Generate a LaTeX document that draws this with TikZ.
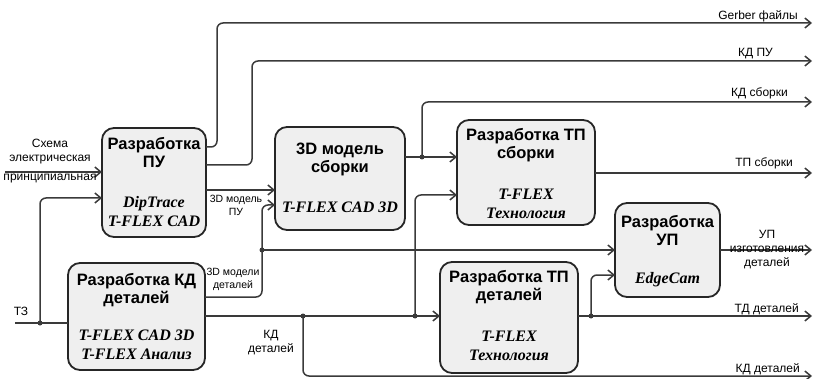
\documentclass[tikz,border=0pt]{standalone}
\usepackage{fontspec}
\setmainfont{Liberation Sans}
\newfontfamily\toolfont{Liberation Serif}
\usepackage{tikz}
\usetikzlibrary{arrows.meta,positioning}
\definecolor{linecol}{HTML}{3A3A3A}
\definecolor{boxfill}{HTML}{EFEFEF}

\begin{document}
\begin{tikzpicture}[x=1pt, y=-1pt, >={Straight Barb[length=6pt,width=10pt]},
    blk/.style={draw=black!85, line width=1.8pt, fill=boxfill, rounded corners=12pt,
                inner sep=0pt, outer sep=0pt},
    ttl/.style={font=\fontsize{16.5}{18}\selectfont\bfseries, align=center, inner sep=0pt},
    tool/.style={font=\fontsize{16}{19}\selectfont\toolfont\bfseries\itshape, align=center, inner sep=0pt},
    conn/.style={draw=linecol, line width=1.5pt, rounded corners=6pt},
    lbl/.style={font=\fontsize{12}{14}\selectfont, align=center, inner sep=0pt},
    slbl/.style={font=\fontsize{10.5}{12.5}\selectfont, align=center, inner sep=0pt},
    jdot/.style={circle, fill=linecol, inner sep=0pt, minimum size=5pt}]

    \useasboundingbox (0,0) rectangle (816,379);

    % ── Blocks ────────────────────────────────────────────────────────────────
    \node[blk, minimum width=104pt, minimum height=109pt] (pu)  at (154,182.5) {};
    \node[blk, minimum width=137pt, minimum height=107pt] (kd)  at (136.5,316.5) {};
    \node[blk, minimum width=130pt, minimum height=103pt] (m3d) at (340,178.5) {};
    \node[blk, minimum width=138pt, minimum height=105pt] (tps) at (526,172.5) {};
    \node[blk, minimum width=105pt, minimum height=94pt]  (up)  at (667.5,250) {};
    \node[blk, minimum width=138pt, minimum height=111pt] (tpd) at (509,317.5) {};

    % ── Block texts ───────────────────────────────────────────────────────────
    \node[ttl, below=9pt of pu.north]   (puT)  {Разработка\\ПУ};
    \node[tool, above=10pt of pu.south] (puS)  {DipTrace\\T-FLEX CAD};
    \node[ttl, below=10pt of kd.north]  (kdT)  {Разработка КД\\деталей};
    \node[tool, above=10pt of kd.south] (kdS)  {T-FLEX CAD 3D\\T-FLEX Анализ};
    \node[ttl, below=16pt of m3d.north] (m3dT) {3D модель\\сборки};
    \node[tool, above=17pt of m3d.south] (m3dS) {T-FLEX CAD 3D};
    \node[ttl, below=8pt of tps.north]  (tpsT) {Разработка ТП\\сборки};
    \node[tool, above=6pt of tps.south] (tpsS) {T-FLEX\\Технология};
    \node[ttl, below=12pt of up.north]  (upT)  {Разработка\\УП};
    \node[tool, above=10pt of up.south] (upS)  {EdgeCam};
    \node[ttl, below=8pt of tpd.north]  (tpdT) {Разработка ТП\\деталей};
    \node[tool, above=12pt of tpd.south] (tpdS) {T-FLEX\\Технология};

    % ── Free ends and junctions ──────────────────────────────────────────────
    \coordinate (inSch)  at (5,172);
    \coordinate (inTZ)   at (15,323);
    \coordinate (outGb)  at (812,23);
    \coordinate (outKpu) at (812,61);
    \coordinate (outKsb) at (812,102);
    \coordinate (outTsb) at (812,173);
    \coordinate (outUp)  at (812,250);
    \coordinate (outTd)  at (812,316);
    \coordinate (outKd)  at (812,376);
    \node[jdot] (jTZ)  at (40,323) {};
    \node[jdot] (j3dd) at (262,250) {};
    \node[jdot] (jKd1) at (303,316) {};
    \node[jdot] (jKd2) at (415,316) {};
    \node[jdot] (jSb)  at (422,157) {};
    \node[jdot] (jTd)  at (591,316) {};

    % ── Inputs ───────────────────────────────────────────────────────────────
    \draw[conn, ->] (inSch) -- (pu.west |- inSch);
    \draw[conn] (inTZ) -- (kd.west |- inTZ);
    \draw[conn, ->] (jTZ.center) -- (40,198) -- (pu.west |- 0,198);

    % ── Outputs of PU block ──────────────────────────────────────────────────
    \draw[conn, ->] (pu.east |- 0,147) -- (217,147) -- (217,23) -- (outGb);
    \draw[conn, ->] (pu.east |- 0,165) -- (252,165) -- (252,61) -- (outKpu);
    \draw[conn, ->] (pu.east |- 0,190) -- (m3d.west |- 0,190);

    % ── Outputs of KD block ──────────────────────────────────────────────────
    \draw[conn, ->] (kd.east |- 0,297) -- (262,297) -- (262,205) -- (m3d.west |- 0,205);
    \draw[conn, ->] (j3dd.center) -- (up.west |- j3dd);
    \draw[conn, ->] (kd.east |- 0,316) -- (tpd.west |- 0,316);
    \draw[conn, ->] (jKd2.center) -- (415,195) -- (tps.west |- 0,195);
    \draw[conn, ->] (jKd1.center) -- (303,376) -- (outKd);

    % ── Outputs of 3D block ──────────────────────────────────────────────────
    \draw[conn, ->] (m3d.east |- jSb) -- (tps.west |- jSb);
    \draw[conn, ->] (jSb.center) -- (422,102) -- (outKsb);

    % ── Outputs of TP / UP blocks ────────────────────────────────────────────
    \draw[conn, ->] (tps.east |- outTsb) -- (outTsb);
    \draw[conn, ->] (up.east |- outUp) -- (outUp);
    \draw[conn, ->] (tpd.east |- outTd) -- (outTd);
    \draw[conn, ->] (jTd.center) -- (591,275) -- (up.west |- 0,275);

    % ── Connector labels ─────────────────────────────────────────────────────
    \node[lbl, anchor=north] (schL) at (50,139) {Схема\\электрическая\\[5pt]принципиальная};
    \node[lbl, anchor=base] (tzL) at (21,315) {ТЗ};
    \node[slbl, anchor=north] (m3puL) at (236,195) {3D модель\\ПУ};
    \node[slbl, anchor=north] (m3kdL) at (233,268) {3D модели\\деталей};
    \node[lbl, anchor=north] (kdinL) at (271,330) {КД\\деталей};
    \node[lbl, anchor=base east] (gbL)  at (798,20)  {Gerber файлы};
    \node[lbl, anchor=base east] (kpuL) at (773,57)  {КД ПУ};
    \node[lbl, anchor=base east] (ksbL) at (788,97)  {КД сборки};
    \node[lbl, anchor=base east] (tsbL) at (793,167) {ТП сборки};
    \node[lbl, anchor=north] (upL) at (767,230) {УП\\изготовления\\деталей};
    \node[lbl, anchor=base east] (tdL)  at (799,312) {ТД деталей};
    \node[lbl, anchor=base east] (kdL)  at (800,372) {КД деталей};

\end{tikzpicture}
\end{document}
